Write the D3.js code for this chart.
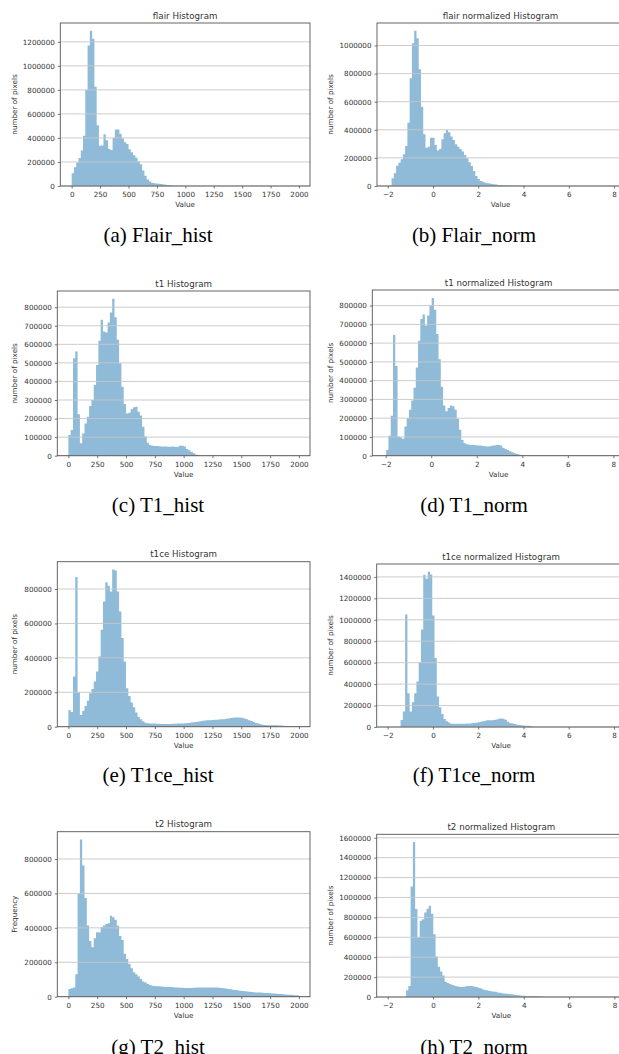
<!DOCTYPE html>
<html><head><meta charset="utf-8">
<script src="https://cdn.jsdelivr.net/npm/d3@7"></script>
<style>body{margin:0;background:#fff}svg{display:block}</style>
</head><body><svg id="c" width="619" height="1054"></svg>
<script>
// ---------- DATA ----------
const histBinStart = 0, histBinWidth = 20;
const normBinWidth = 0.1;
const flairNormStart = -1.83, t1NormStart = -1.98, t1ceNormStart = -1.43, t2NormStart = -1.19;

const flairHistCounts = [106000,156000,195000,232000,296000,418000,800000,1170000,1292000,1225000,
825000,505000,335000,338000,430000,380000,310000,300000,400000,470000,
470000,435000,395000,365000,350000,305000,280000,255000,235000,205000,
180000,130000,85000,55000,38000,28000,23000,21000,19000,16000,
13000,10000,8000,6000,4000,3000,2000,1500,1000,800,
600,500,400,300,300,200,200,200,100,100,
100,100,100,100,100,0,0,0,0,0,0,0,0,0,0,0,0,0,0,0,0,0,0,0,0,0,0,0,0,0,0,0,0,0,0,0,0,0,0,0];

const flairNormCounts = [55000,90000,145000,166000,190000,226000,285000,451000,767000,1017000,
1105000,1052000,831000,565000,368000,273000,280000,344000,344000,292000,
252000,264000,333000,375000,399000,382000,352000,328000,297000,280000,
264000,245000,221000,197000,169000,143000,107000,71000,50000,36000,
31000,24000,19000,17000,14000,12000,10000,8000,7000,6000,
5000,4000,3000,3000,2000,2000,1000,1000,1000,500];

const t1HistCounts = [111000,138000,525000,561000,223000,67000,120000,174000,210000,268000,
300000,381000,489000,619000,732000,669000,664000,718000,772000,845000,
746000,624000,498000,372000,279000,228000,232000,250000,261000,264000,
237000,216000,156000,103000,70000,58000,53000,52000,52000,51000,
50000,49000,49000,48000,48000,50000,47000,48000,53000,54000,
49000,36000,29000,20000,13000,7000,4000,2000,1000,1000,
800,600,500,400,300,200,200,100,100,100,0,0,0,0,0,0,0,0,0,0,0,0,0,0,0,0,0,0,0,0,0,0,0,0,0,0,0,0,0,0];

const t1NormCounts = [31000,106000,213000,643000,478000,102000,97000,90000,156000,200000,
245000,294000,362000,470000,613000,729000,753000,694000,747000,801000,
841000,778000,649000,514000,367000,267000,237000,254000,267000,263000,
245000,197000,138000,84000,66000,61000,58000,57000,57000,56000,
55000,54000,52000,50000,49000,50000,53000,55000,57000,57000,
55000,42000,36000,30000,24000,18000,13000,9000,6000,3000,2000,1000];

const t1ceHistCounts = [97000,85000,291000,870000,198000,68000,93000,120000,151000,194000,
219000,262000,320000,408000,563000,728000,839000,819000,786000,913000,
907000,786000,670000,515000,379000,223000,179000,140000,113000,82000,
58000,43000,31000,23000,20000,19000,18000,18000,17000,17000,
16000,16000,16000,16000,16000,17000,17000,18000,18000,19000,
20000,21000,22000,24000,26000,28000,30000,32000,34000,36000,
37000,38000,39000,40000,41000,42000,43000,44000,46000,48000,
50000,52000,53000,54000,54000,52000,48000,43000,38000,33000,
27000,22000,18000,14000,12000,10000,9000,9000,8000,8000,
8000,7000,7000,6000,3000,2000,1000,1000,1000,500];

const t1ceNormCounts = [65000,144000,1050000,315000,144000,231000,315000,424000,605000,909000,
1420000,1382000,1448000,1423000,1040000,643000,284000,184000,122000,75000,
53000,41000,31000,30000,30000,30000,30000,31000,31000,32000,
33000,35000,37000,40000,45000,50000,54000,58000,62000,63000,
64000,66000,70000,76000,79000,78000,67000,50000,38000,32000,
27000,21000,18000,16000,13000,12000,11000,9000,3000,1000,1000];

const t2HistCounts = [45000,49000,54000,130000,598000,913000,763000,573000,414000,324000,
287000,340000,375000,373000,404000,414000,423000,427000,470000,462000,
447000,412000,353000,330000,249000,219000,190000,165000,142000,130000,
117000,103000,89000,82000,74000,68000,64000,62000,61000,60000,
59000,58000,57000,57000,56000,55000,54000,53000,52000,52000,
51000,50000,50000,51000,52000,53000,54000,54000,54000,54000,
54000,54000,53000,53000,53000,52000,51000,49000,47000,45000,
43000,41000,39000,37000,35000,33000,32000,30000,29000,27000,
26000,25000,24000,24000,23000,22000,21000,20000,19000,18000,
17000,16000,15000,14000,13000,12000,11000,10000,9000,8000];

const t2NormCounts = [67000,111000,1111000,1557000,883000,601000,765000,782000,849000,886000,
916000,836000,631000,406000,305000,255000,215000,154000,141000,131000,
121000,114000,107000,104000,101000,104000,107000,111000,110000,107000,
104000,97000,91000,84000,74000,67000,62000,58000,55000,52000,
46000,42000,38000,36000,33000,30000,28000,25000,21000,18000,
15000,13000,12000,11000,10000,10000,9000,9000,8000,7000,2000,1000];

const histXTicks = [0,250,500,750,1000,1250,1500,1750,2000];
const normXTicks = [-2,0,2,4,6,8];
const yTicksFlairHist = [0,200000,400000,600000,800000,1000000,1200000];
const yTicksFlairNorm = [0,200000,400000,600000,800000,1000000];
const yTicksT1Hist = [0,100000,200000,300000,400000,500000,600000,700000,800000];
const yTicksT1Norm = [0,100000,200000,300000,400000,500000,600000,700000,800000];
const yTicksT1ceHist = [0,200000,400000,600000,800000];
const yTicksT1ceNorm = [0,200000,400000,600000,800000,1000000,1200000,1400000];
const yTicksT2Hist = [0,200000,400000,600000,800000];
const yTicksT2Norm = [0,200000,400000,600000,800000,1000000,1200000,1400000,1600000];

const titles = ["flair Histogram","flair normalized Histogram","t1 Histogram","t1 normalized Histogram",
  "t1ce Histogram","t1ce normalized Histogram","t2 Histogram","t2 normalized Histogram"];
const captions = ["(a) Flair_hist","(b) Flair_norm","(c) T1_hist","(d) T1_norm",
  "(e) T1ce_hist","(f) T1ce_norm","(g) T2_hist","(h) T2_norm"];
const yLabels = ["number of pixels","number of pixels","number of pixels","number of pixels",
  "number of pixels","number of pixels","Frequency","number of pixels"];

// ---------- LAYOUT ----------
const panels = [
  {counts:flairHistCounts, start:histBinStart, w:histBinWidth, xlim:[-100,2097], xt:histXTicks, yt:yTicksFlairHist, box:[60.3,310,23,186], ylx:16.9, cx:158, cy:242},
  {counts:flairNormCounts, start:flairNormStart, w:normBinWidth, xlim:[-2.473,8.44], xt:normXTicks, yt:yTicksFlairNorm, box:[377,624,23,186], ylx:332.5, cx:474, cy:242},
  {counts:t1HistCounts, start:histBinStart, w:histBinWidth, xlim:[-96,2096], xt:histXTicks, yt:yTicksT1Hist, box:[57.3,310,291,455.7], ylx:16.9, cx:158, cy:512},
  {counts:t1NormCounts, start:t1NormStart, w:normBinWidth, xlim:[-2.589,8.51], xt:normXTicks, yt:yTicksT1Norm, box:[372.3,625,290,455.7], ylx:332.7, cx:474, cy:512},
  {counts:t1ceHistCounts, start:histBinStart, w:histBinWidth, xlim:[-96,2096], xt:histXTicks, yt:yTicksT1ceHist, box:[57.3,310,561.7,726.7], ylx:16.9, cx:158, cy:782},
  {counts:t1ceNormCounts, start:t1ceNormStart, w:normBinWidth, xlim:[-2.486,8.51], xt:normXTicks, yt:yTicksT1ceNorm, box:[376.7,625.5,564,727], ylx:332.7, cx:474, cy:782},
  {counts:t2HistCounts, start:histBinStart, w:histBinWidth, xlim:[-96,2096], xt:histXTicks, yt:yTicksT2Hist, box:[57.3,310,831.7,996.7], ylx:17.2, cx:158, cy:1054},
  {counts:t2NormCounts, start:t2NormStart, w:normBinWidth, xlim:[-2.486,8.51], xt:normXTicks, yt:yTicksT2Norm, box:[376.7,626,834.3,997], ylx:332.7, cx:474, cy:1054}
];

const svg = d3.select("#c");
const FONT = "'DejaVu Sans', sans-serif";
const TXT = "#333";
const fmt = d3.format("d");

panels.forEach((p, k) => {
  const [l, r, t, b] = p.box;
  const x = d3.scaleLinear().domain(p.xlim).range([l, r]);
  const y = d3.scaleLinear().domain([0, d3.max(p.counts) * 1.05]).range([b, t]);
  const g = svg.append("g");

  // histogram bars as one step-shaped area (bin left edges + closing right edge)
  const pts = p.counts.map((c, i) => ({x0: p.start + i * p.w, c}));
  pts.push({x0: p.start + p.counts.length * p.w, c: p.counts[p.counts.length - 1]});
  const area = d3.area()
    .x(d => x(d.x0))
    .y0(y(0))
    .y1(d => y(d.c))
    .curve(d3.curveStepAfter);
  g.append("path").datum(pts).attr("d", area).attr("fill", "#8fbbd9");

  // horizontal grid (drawn over bars)
  g.append("g").selectAll("line").data(p.yt).join("line")
    .attr("x1", l).attr("x2", r)
    .attr("y1", d => y(d)).attr("y2", d => y(d))
    .attr("stroke", "#c6c6c6").attr("stroke-width", 0.9);

  // axes
  const ax = g.append("g").attr("transform", `translate(0,${b})`)
    .call(d3.axisBottom(x).tickValues(p.xt).tickFormat(fmt).tickSize(2.5).tickPadding(3.5));
  const ay = g.append("g").attr("transform", `translate(${l},0)`)
    .call(d3.axisLeft(y).tickValues(p.yt).tickFormat(fmt).tickSize(2.5).tickPadding(3));
  [ax, ay].forEach(a => {
    a.select(".domain").remove();
    a.attr("font-family", FONT).attr("font-size", 7.2);
    a.selectAll("line").attr("stroke", "#555").attr("stroke-width", 0.8);
    a.selectAll("text").attr("fill", TXT);
  });

  // spines
  g.append("rect").attr("x", l).attr("y", t).attr("width", r - l).attr("height", b - t)
    .attr("fill", "none").attr("stroke", "#555").attr("stroke-width", 0.9);

  // title
  g.append("text").attr("x", (l + r) / 2).attr("y", t - 4.5)
    .attr("text-anchor", "middle").attr("font-family", FONT).attr("font-size", 8.7)
    .attr("fill", TXT).text(titles[k]);

  // x label
  g.append("text").attr("x", (l + r) / 2).attr("y", b + 21.3)
    .attr("text-anchor", "middle").attr("font-family", FONT).attr("font-size", 7.2)
    .attr("fill", TXT).text("Value");

  // y label
  g.append("text").attr("transform", `translate(${p.ylx},${(t + b) / 2}) rotate(-90)`)
    .attr("text-anchor", "middle").attr("font-family", FONT).attr("font-size", 7.2)
    .attr("fill", TXT).text(yLabels[k]);

  // caption
  g.append("text").attr("x", p.cx).attr("y", p.cy)
    .attr("text-anchor", "middle").attr("font-family", "'Liberation Serif', 'Times New Roman', serif")
    .attr("font-size", 21).attr("fill", "#000").text(captions[k]);
});
</script>
</body></html>
